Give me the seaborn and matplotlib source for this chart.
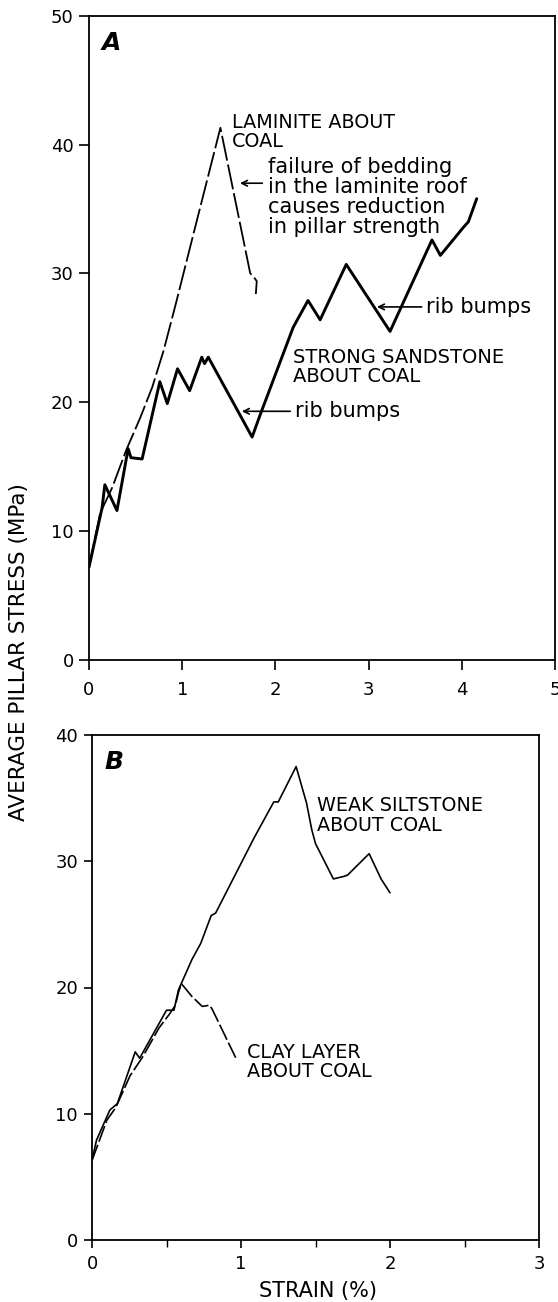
import matplotlib
matplotlib.use("Agg")
import matplotlib.pyplot as plt
import seaborn as sns
import pandas as pd

# ---------------- data ----------------
# Panel A
sand_x = [0.0, 0.14, 0.17, 0.30, 0.42, 0.45, 0.57, 0.76, 0.84, 0.95, 1.08, 1.21, 1.24, 1.28,
          1.75, 1.83, 2.19, 2.22, 2.35, 2.48, 2.76, 3.23, 3.68, 3.77, 4.02, 4.07, 4.16]
sand_y = [7.2, 11.8, 13.6, 11.6, 16.4, 15.7, 15.6, 21.6, 19.9, 22.6, 20.9, 23.5, 23.0, 23.5,
          17.3, 18.9, 25.8, 26.2, 27.9, 26.4, 30.7, 25.5, 32.6, 31.4, 33.6, 34.0, 35.8]

lam_x = [0.0, 0.12, 0.25, 0.40, 0.55, 0.68, 0.80, 0.93, 1.15, 1.41, 1.73, 1.76, 1.80, 1.79]
lam_y = [7.2, 11.4, 13.4, 16.3, 18.8, 21.2, 24.0, 27.6, 33.9, 41.3, 30.0, 29.8, 29.4, 28.4]

# Panel B
silt_x = [0.0, 0.03, 0.12, 0.17, 0.29, 0.32, 0.50, 0.55, 0.58, 0.67, 0.73, 0.80, 0.83, 1.09,
          1.22, 1.25, 1.37, 1.44, 1.475, 1.50, 1.62, 1.69, 1.715, 1.86, 1.94, 2.00]
silt_y = [6.3, 7.9, 10.3, 10.8, 14.9, 14.4, 18.2, 18.2, 19.8, 22.2, 23.5, 25.7, 25.9, 31.9,
          34.7, 34.7, 37.5, 34.6, 32.5, 31.4, 28.6, 28.8, 28.9, 30.6, 28.6, 27.5]

clay_x = [0.0, 0.10, 0.16, 0.255, 0.34, 0.45, 0.52, 0.56, 0.58, 0.60, 0.67, 0.74, 0.79, 0.81, 0.97]
clay_y = [6.3, 9.5, 10.5, 13.0, 14.5, 16.8, 17.9, 18.6, 19.6, 20.3, 19.3, 18.5, 18.6, 18.2, 14.3]

a_xticks = [0, 1, 2, 3, 4, 5]
a_yticks = [0, 10, 20, 30, 40, 50]
b_xticks = [0, 1, 2, 3]
b_xminor = [0.5, 1.5, 2.5]
b_yticks = [0, 10, 20, 30, 40]

# ---------------- style ----------------
sns.set_style("ticks")
plt.rcParams['font.family'] = ['DejaVu Sans']
plt.rcParams['axes.linewidth'] = 1.3
plt.rcParams['axes.edgecolor'] = 'black'
plt.rcParams['text.color'] = 'black'
plt.rcParams['axes.labelcolor'] = 'black'
plt.rcParams['xtick.color'] = 'black'
plt.rcParams['ytick.color'] = 'black'

fig = plt.figure(figsize=(5.58, 13.02), dpi=100)
axA = fig.add_axes([89/558, 1-660/1302, (555-89)/558, (660-15.7)/1302])
axB = fig.add_axes([92/558, 1-1240/1302, (539-92)/558, (1240-735)/1302])

dfA1 = pd.DataFrame({"x": sand_x, "y": sand_y})
dfA2 = pd.DataFrame({"x": lam_x, "y": lam_y})
dfB1 = pd.DataFrame({"x": silt_x, "y": silt_y})
dfB2 = pd.DataFrame({"x": clay_x, "y": clay_y})

sns.lineplot(data=dfA1, x="x", y="y", ax=axA, color="black", lw=2.1, sort=False, estimator=None)
sns.lineplot(data=dfA2, x="x", y="y", ax=axA, color="black", lw=1.3, sort=False, estimator=None,
             linestyle=(0, (14, 2.2)))
sns.lineplot(data=dfB1, x="x", y="y", ax=axB, color="black", lw=1.2, sort=False, estimator=None)
sns.lineplot(data=dfB2, x="x", y="y", ax=axB, color="black", lw=1.2, sort=False, estimator=None,
             linestyle=(0, (10, 2)))

for ax in (axA, axB):
    ax.set_xlabel("")
    ax.set_ylabel("")
    for s in ax.spines.values():
        s.set_visible(True)
        s.set_color("black")
        s.set_linewidth(1.3)

axA.set_xlim(0, 5)
axA.set_ylim(0, 50)
axA.set_xticks(a_xticks)
axA.set_yticks(a_yticks)
axA.tick_params(axis="both", direction="out", length=7, width=1.2, labelsize=13, colors="black")
axA.tick_params(axis="x", pad=8)
axA.tick_params(axis="y", pad=4)

axB.set_xlim(0, 3)
axB.set_ylim(0, 40)
axB.set_xticks(b_xticks)
axB.set_xticks(b_xminor, minor=True)
axB.set_yticks(b_yticks)
axB.tick_params(axis="both", which="major", direction="out", length=6, width=1.2, labelsize=13, colors="black")
axB.tick_params(axis="x", which="minor", direction="out", length=5, width=1.0, colors="black")
axB.tick_params(axis="x", pad=5)
axB.tick_params(axis="y", pad=4)

# ---------------- annotations ----------------
axA.text(0.027, 0.957, "A", transform=axA.transAxes, fontsize=18, fontweight="bold",
         fontstyle="italic", va="center", ha="left", color="black")
axB.text(0.027, 0.947, "B", transform=axB.transAxes, fontsize=18, fontweight="bold",
         fontstyle="italic", va="center", ha="left", color="black")

axA.text(1.53, 41.0, "LAMINITE ABOUT\nCOAL", fontsize=13.8, ha="left", va="center", linespacing=1.0)
axA.text(1.92, 35.9, "failure of bedding\nin the laminite roof\ncauses reduction\nin pillar strength",
         fontsize=15, ha="left", va="center", linespacing=1.0)
axA.annotate("", xy=(1.62, 37.0), xytext=(1.86, 37.0),
             arrowprops=dict(arrowstyle="->", color="black", lw=1.2, shrinkA=0, shrinkB=0))

axA.text(2.19, 22.75, "STRONG SANDSTONE\nABOUT COAL", fontsize=14, ha="left", va="center",
         linespacing=1.0)
axA.text(2.21, 19.3, "rib bumps", fontsize=15, ha="left", va="center")
axA.annotate("", xy=(1.64, 19.3), xytext=(2.16, 19.3),
             arrowprops=dict(arrowstyle="->", color="black", lw=1.2, shrinkA=0, shrinkB=0))
axA.text(3.62, 27.4, "rib bumps", fontsize=15, ha="left", va="center")
axA.annotate("", xy=(3.09, 27.4), xytext=(3.57, 27.4),
             arrowprops=dict(arrowstyle="->", color="black", lw=1.2, shrinkA=0, shrinkB=0))

axB.text(1.51, 33.6, "WEAK SILTSTONE\nABOUT COAL", fontsize=13.8, ha="left", va="center",
         linespacing=1.05)
axB.text(1.04, 14.1, "CLAY LAYER\nABOUT COAL", fontsize=13.8, ha="left", va="center",
         linespacing=1.0)

fig.text(19/558, 1-652/1302, "AVERAGE PILLAR STRESS (MPa)", rotation=90, fontsize=15.5,
         ha="center", va="center")
fig.text(318/558, 1-1291/1302, "STRAIN (%)", fontsize=15, ha="center", va="center")

fig.savefig("out.png", dpi=100)
